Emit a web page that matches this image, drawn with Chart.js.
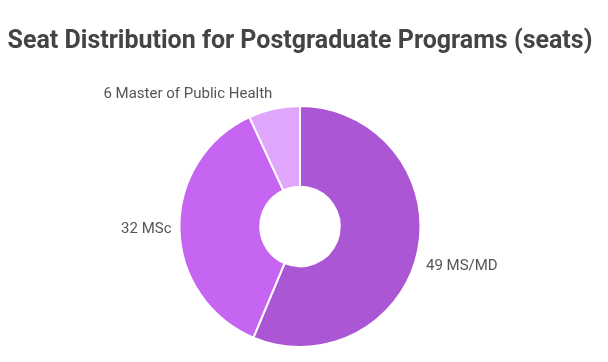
<!DOCTYPE html>
<html>
<head>
<meta charset="utf-8">
<script src="https://cdn.jsdelivr.net/npm/chart.js@4.4.0/dist/chart.umd.min.js"></script>
<style>
  html, body { margin: 0; padding: 0; background: #fff; }
  #wrap { width: 608px; height: 362px; }
</style>
</head>
<body>
<div id="wrap"><canvas id="seatChart"></canvas></div>
<script>
const programs = ['MS/MD', 'MSc', 'Master of Public Health'];
const seats = [49, 32, 6];
const sliceColors = ['rgb(170, 86, 213)', 'rgb(197, 101, 242)', 'rgb(224, 166, 252)'];

// outside labels, "value name", placed at each slice's middle angle
const outsideLabels = {
  id: 'outsideLabels',
  afterDatasetsDraw(chart) {
    const ctx = chart.ctx;
    const meta = chart.getDatasetMeta(0);
    const nudge = [14, 0, -7];
    ctx.save();
    ctx.font = '15px Roboto';
    ctx.fillStyle = '#555';
    ctx.textBaseline = 'middle';
    meta.data.forEach((arc, i) => {
      const p = arc.getProps(['x', 'y', 'startAngle', 'endAngle', 'outerRadius'], true);
      const mid = (p.startAngle + p.endAngle) / 2;
      const r = p.outerRadius + 8;
      const x = p.x + Math.cos(mid) * r;
      const y = p.y + Math.sin(mid) * r + nudge[i];
      ctx.textAlign = Math.cos(mid) >= 0 ? 'left' : 'right';
      ctx.fillText(seats[i] + ' ' + programs[i], x, y);
    });
    ctx.restore();
  }
};

const seat_config = {
  type: 'doughnut',
  data: {
    labels: programs,
    datasets: [{
      data: seats,
      backgroundColor: sliceColors,
      borderColor: '#fff',
      borderWidth: 2
    }]
  },
  options: {
    responsive: true,
    maintainAspectRatio: false,
    animation: false,
    cutout: '33%',
    layout: { padding: { left: 0, right: 8, top: 0, bottom: 14 } },
    plugins: {
      legend: { display: false },
      tooltip: { enabled: false },
      title: {
        display: true,
        text: 'Seat Distribution for Postgraduate Programs (seats)',
        color: '#444',
        font: { family: 'Roboto', size: 25, weight: 'bold' },
        padding: { top: 27, bottom: 48 }
      }
    }
  },
  plugins: [outsideLabels]
};

var seatChart = new Chart(document.getElementById('seatChart'), seat_config);
</script>
</body>
</html>
